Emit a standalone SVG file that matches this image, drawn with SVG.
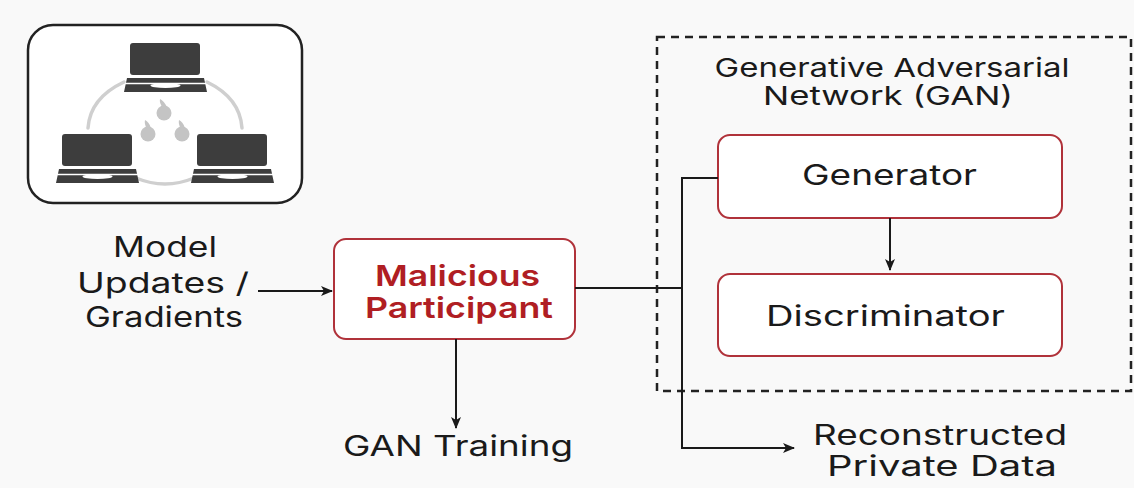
<svg xmlns="http://www.w3.org/2000/svg" width="1134" height="488" viewBox="0 0 1134 488">
  <style>
    .lbl { font-family: Inter, "Liberation Sans", sans-serif; font-size: 28px; font-weight: 400; fill: #1a1a1a; }
    .mal { font-family: Inter, "Liberation Sans", sans-serif; font-size: 29px; font-weight: 600; fill: #b01e23; }
    .box { fill: #ffffff; stroke: #b0323a; stroke-width: 2; }
    .wire { fill: none; stroke: #1a1a1a; stroke-width: 2; }
    .arrow { fill: none; stroke: #1a1a1a; stroke-width: 2; marker-end: url(#head); }
    .ring { fill: none; stroke: #cfcfcf; stroke-width: 3.5; stroke-linecap: round; }
    .blob { fill: #c4c4c4; }
    .dev { fill: #3d3d3d; }
  </style>
  <defs>
    <marker id="head" viewBox="0 0 12 10" refX="11" refY="5" markerWidth="12" markerHeight="10" markerUnits="userSpaceOnUse" orient="auto">
      <path d="M0,0 L12,5 L0,10 L3,5 Z" fill="#1a1a1a"/>
    </marker>
    <symbol id="laptop" overflow="visible">
      <rect class="dev" x="6" y="0" width="70" height="32" rx="3"/>
      <path class="dev" d="M3,35 L80,35 L83,49 L0,49 Z"/>
      <line x1="1" y1="40.5" x2="82" y2="40.5" stroke="#ffffff" stroke-width="1.5"/>
      <ellipse cx="41.5" cy="42.5" rx="15" ry="2.6" fill="#ffffff"/>
    </symbol>
  </defs>

  <rect width="1134" height="488" fill="#f9f9f9"/>

  <!-- federated clients panel -->
  <g id="clients">
    <rect x="28" y="25" width="274" height="178" rx="25" fill="#ffffff" stroke="#222222" stroke-width="2.5"/>
    <path class="ring" d="M124,82 Q90,98 88,128"/>
    <path class="ring" d="M207,82 Q240,98 242,128"/>
    <path class="ring" d="M136,178 Q165,190 194,178"/>
    <g class="blob">
      <circle cx="164" cy="113" r="7.5"/>
      <path d="M163,108 Q159,103 160,99 Q164,101 167,107 Z"/>
      <circle cx="148" cy="134" r="7.5"/>
      <path d="M147,129 Q144,124 145,120 Q149,122 151,128 Z"/>
      <circle cx="182" cy="134" r="7.5"/>
      <path d="M181,129 Q178,124 179,120 Q183,122 185,128 Z"/>
    </g>
    <use href="#laptop" x="124" y="43"/>
    <use href="#laptop" x="56" y="134"/>
    <use href="#laptop" x="191" y="134"/>
  </g>

  <g id="model-updates">
    <text class="lbl" x="165" y="257" text-anchor="middle" textLength="104" lengthAdjust="spacingAndGlyphs">Model</text>
    <text class="lbl" x="163" y="293" text-anchor="middle" textLength="172" lengthAdjust="spacingAndGlyphs">Updates /</text>
    <text class="lbl" x="164" y="327" text-anchor="middle" textLength="158" lengthAdjust="spacingAndGlyphs">Gradients</text>
  </g>

  <g id="malicious-participant">
    <rect class="box" x="334" y="239" width="241" height="100" rx="12"/>
    <text class="mal" x="457.5" y="286" text-anchor="middle" textLength="165" lengthAdjust="spacingAndGlyphs">Malicious</text>
    <text class="mal" x="459" y="318" text-anchor="middle" textLength="188" lengthAdjust="spacingAndGlyphs">Participant</text>
  </g>

  <g id="gan-training">
    <text class="lbl" x="458" y="456" text-anchor="middle" textLength="230" lengthAdjust="spacingAndGlyphs">GAN Training</text>
  </g>

  <g id="gan">
    <rect x="657" y="37" width="474" height="354" fill="none" stroke="#222222" stroke-width="2.5" stroke-dasharray="8 6"/>
    <text class="lbl" x="892" y="77" text-anchor="middle" textLength="355" lengthAdjust="spacingAndGlyphs" style="font-size:26px">Generative Adversarial</text>
    <text class="lbl" x="888" y="105" text-anchor="middle" textLength="250" lengthAdjust="spacingAndGlyphs" style="font-size:26px">Network (GAN)</text>
  </g>

  <g id="generator">
    <rect class="box" x="718" y="135" width="344" height="83" rx="12"/>
    <text class="lbl" x="889.5" y="185" text-anchor="middle" textLength="175" lengthAdjust="spacingAndGlyphs">Generator</text>
  </g>

  <g id="discriminator">
    <rect class="box" x="718" y="274" width="344" height="82" rx="12"/>
    <text class="lbl" x="885.5" y="326" text-anchor="middle" textLength="239" lengthAdjust="spacingAndGlyphs">Discriminator</text>
  </g>

  <g id="reconstructed-data">
    <text class="lbl" x="940" y="445" text-anchor="middle" textLength="254" lengthAdjust="spacingAndGlyphs">Reconstructed</text>
    <text class="lbl" x="942" y="476" text-anchor="middle" textLength="230" lengthAdjust="spacingAndGlyphs">Private Data</text>
  </g>

  <g id="connectors">
    <path class="arrow" d="M258,291 L332,291"/>
    <path class="wire" d="M575,288 L682,288"/>
    <path class="arrow" d="M718,178 L682,178 L682,448 L794,448"/>
    <path class="arrow" d="M890,218 L890,270"/>
    <path class="arrow" d="M456,339 L456,428"/>
  </g>
</svg>
